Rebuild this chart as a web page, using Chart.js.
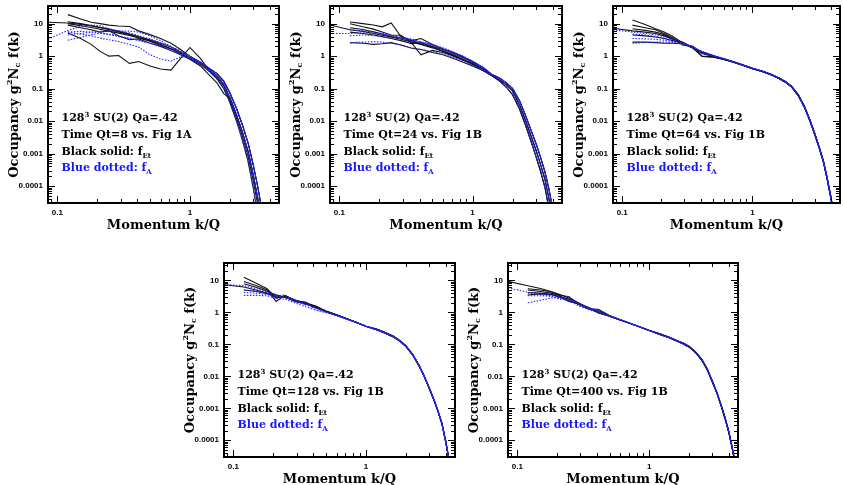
<!DOCTYPE html>
<html>
<head>
<meta charset="utf-8">
<script src="https://cdn.jsdelivr.net/npm/chart.js@4.4.1/dist/chart.umd.min.js"></script>
<style>
  body { margin: 0; width: 843px; height: 485px; overflow: hidden; background: #fff; position: relative; }
  canvas { position: absolute; }
</style>
</head>
<body>
<canvas id="p1"></canvas>
<canvas id="p2"></canvas>
<canvas id="p3"></canvas>
<canvas id="p4"></canvas>
<canvas id="p5"></canvas>
<script>
// momentum grid: noisy low-k part and the smooth tail
const kLow = [0.085, 0.12, 0.15, 0.18, 0.21, 0.245, 0.29, 0.35, 0.41, 0.5, 0.6, 0.72, 0.85, 1.0]
const kTail = [1.2, 1.4, 1.6, 1.8, 2.0, 2.25, 2.5, 2.75, 3.0, 3.25, 3.5, 3.75, 4.0, 4.25, 4.5, 4.75]

const xLabelVals = [0.1, 1]
const xLabelText = ['0.1', '1']
const yLabelVals = [0.0001, 0.001, 0.01, 0.1, 1, 10]
const yLabelText = ['0.0001', '0.001', '0.01', '0.1', '1', '10']
const timeLabels = ['Time Qt=8 vs. Fig 1A', 'Time Qt=24 vs. Fig 1B', 'Time Qt=64 vs. Fig 1B',
  'Time Qt=128 vs. Fig 1B', 'Time Qt=400 vs. Fig 1B']

// ---- Qt=8
const p1TailLo = [0.55, 0.34, 0.2, 0.1, 0.038, 0.0098, 0.0024, 5.5e-4, 9e-5, 1.3e-5]
const p1TailMid = [0.6, 0.38, 0.25, 0.135, 0.054, 0.0155, 0.0043, 0.00115, 2.3e-4, 4.2e-5, 6e-6]
const p1TailHi = [0.65, 0.42, 0.29, 0.17, 0.075, 0.024, 0.0072, 0.0021, 4.6e-4, 9.5e-5, 1.7e-5]
const p1TailDip = [0.5, 0.26, 0.15, 0.07, 0.05, 0.0155, 0.0043, 0.00115, 2.3e-4, 4.2e-5, 6e-6]
const p1TailBump = [0.85, 0.36, 0.22, 0.12, 0.045, 0.012, 0.0032, 8e-4, 1.5e-4, 2.6e-5]
const p1Black = [
  [11, 10.5, 9.5, 8.5, 7.5, 6.6, 5.6, 4.6, 3.8, 3.0, 2.3, 1.7, 1.25, 0.85],
  [null, 19, 14, 11, 10, 9, 8.5, 8.2, 6, 4.6, 3.5, 2.5, 1.6, 1.0],
  [null, 11.5, 10, 8.8, 7.8, 6.8, 5.8, 4.8, 4.0, 3.2, 2.5, 1.9, 1.35, 0.9],
  [null, 10, 8.6, 7.6, 6.7, 5.9, 5.1, 4.3, 3.6, 2.9, 2.2, 1.7, 1.2, 0.82],
  [null, 9, 7.5, 6.5, 5.5, 6, 4.2, 3.2, 3.4, 2.5, 2.0, 1.5, 1.1, 0.8],
  [null, 5.2, 3.5, 2.3, 1.4, 1.0, 1.05, 0.6, 0.68, 0.5, 0.4, 0.37, 0.85, 1.85]
]
const p1BlackTails = [p1TailMid, p1TailHi, p1TailHi, p1TailLo, p1TailDip, p1TailBump]
const p1Blue = [
  [3.3, 6.2, 8.2, 9.0, 8.6, 7.0, 6.0, 5.2, 4.3, 3.4, 2.6, 1.9, 1.35, 0.9],
  [null, 3.1, 3.8, 4.6, 5.0, 4.8, 4.2, 3.6, 3.0, 2.5, 2.0, 1.5, 1.15, 0.85],
  [null, 4.5, 5.0, 5.5, 5.8, 5.8, 6.0, 5.9, 5.5, 4.2, 3.0, 2.0, 1.45, 1.0],
  [null, 5.5, 4.8, 4.2, 3.6, 3.2, 2.8, 2.3, 1.9, 1.1, 0.82, 0.7, 0.95, 0.9],
  [null, 5.5, 5.8, 5.5, 5.2, 4.6, 4.0, 3.5, 3.1, 2.6, 2.1, 1.6, 1.2, 0.85]
]
const p1BlueTails = [p1TailHi, p1TailMid, p1TailHi, p1TailLo, p1TailMid]

// ---- Qt=24
const p2TailLo = [0.36, 0.25, 0.17, 0.11, 0.065, 0.024, 0.0075, 0.0024, 8e-4, 2.8e-4, 9e-5, 2e-5]
const p2TailMid = [0.4, 0.26, 0.185, 0.13, 0.085, 0.032, 0.0105, 0.0035, 0.00126, 4.5e-4, 1.6e-4, 4e-5, 1e-5]
const p2TailHi = [0.45, 0.27, 0.21, 0.15, 0.1, 0.043, 0.015, 0.0052, 0.002, 7.5e-4, 2.7e-4, 8e-5, 2e-5]
const p2Black = [
  [9.1, 6.5, 5.8, 5.0, 4.4, 3.9, 3.3, 2.7, 2.3, 1.8, 1.4, 1.05, 0.78, 0.58],
  [null, 11.3, 10, 9.1, 8, 10.5, 4.0, 3.0, 3.5, 2.3, 1.7, 1.3, 0.95, 0.7],
  [null, 10, 8, 6.8, 5.5, 4.5, 4.4, 2.5, 1.1, 1.5, 1.3, 1.0, 0.75, 0.55],
  [null, 7.5, 6.6, 5.6, 4.8, 4.0, 3.6, 3.0, 2.4, 1.9, 1.45, 1.1, 0.8, 0.6],
  [null, 2.6, 2.5, 2.3, 2.4, 2.6, 2.2, 1.75, 1.6, 1.3, 1.1, 0.85, 0.65, 0.5],
  [null, 5.5, 5.0, 4.5, 4.0, 3.5, 3.0, 2.4, 2.6, 2.0, 1.6, 1.2, 0.9, 0.65]
]
const p2BlackTails = [p2TailMid, p2TailHi, p2TailLo, p2TailMid, p2TailLo, p2TailHi]
const p2Blue = [
  [5.0, 5.0, 5.2, 5.0, 4.7, 4.3, 3.8, 3.2, 2.8, 2.3, 1.8, 1.35, 1.0, 0.7],
  [null, 2.6, 2.7, 2.8, 2.7, 2.5, 2.2, 1.8, 1.6, 1.4, 1.15, 0.9, 0.7, 0.52],
  [null, 4.2, 4.5, 4.3, 4.0, 3.6, 3.8, 3.4, 2.6, 2.1, 1.6, 1.2, 0.88, 0.62],
  [null, 6.5, 6.0, 5.5, 5.0, 4.4, 3.6, 3.0, 2.7, 2.2, 1.7, 1.3, 0.95, 0.68]
]
const p2BlueTails = [p2TailHi, p2TailLo, p2TailMid, p2TailHi]

// ---- Qt=64
const p3TailMid = [0.33, 0.263, 0.204, 0.155, 0.112, 0.06, 0.027, 0.0105, 0.004, 0.0015, 5.6e-4, 1.6e-4, 4.2e-5, 1e-5]
const p3TailHi = [0.34, 0.272, 0.212, 0.162, 0.117, 0.064, 0.029, 0.0113, 0.0043, 0.0016, 6e-4, 1.75e-4, 4.6e-5, 1.1e-5]
const p3Black = [
  [7.2, 6.0, 5.5, 5.0, 4.2, 3.4, 2.5, 1.8, 1.3, 1.02, 0.83, 0.66, 0.53, 0.42],
  [null, 13, 9.5, 7.0, 5.5, 4.0, 2.6, 1.9, 1.3, 1.0, 0.82, 0.66, 0.53, 0.42],
  [null, 9, 7.5, 6.5, 5.0, 3.6, 2.2, 2.0, 1.0, 0.95, 0.8, 0.65, 0.52, 0.41],
  [null, 7, 6.2, 5.5, 4.6, 3.3, 2.7, 1.8, 1.35, 1.03, 0.83, 0.66, 0.53, 0.42],
  [null, 2.7, 2.7, 2.6, 2.5, 2.5, 2.4, 1.75, 0.98, 0.93, 0.79, 0.64, 0.52, 0.41],
  [null, 4.5, 4.2, 3.9, 3.5, 3.0, 2.5, 1.9, 1.2, 0.98, 0.81, 0.65, 0.52, 0.41]
]
const p3BlackTails = [p3TailMid, p3TailHi, p3TailMid, p3TailHi, p3TailMid, p3TailHi]
const p3Blue = [
  [6.5, 5.5, 5.0, 4.5, 4.0, 3.3, 2.6, 1.9, 1.4, 1.05, 0.85, 0.67, 0.53, 0.42],
  [null, 2.5, 2.6, 2.7, 2.7, 2.6, 2.4, 1.9, 1.4, 1.05, 0.84, 0.66, 0.53, 0.42],
  [null, 4.8, 4.5, 4.0, 3.6, 3.1, 2.5, 1.9, 1.35, 1.03, 0.83, 0.66, 0.53, 0.42],
  [null, 3.5, 3.4, 3.3, 3.1, 2.8, 2.4, 1.85, 1.3, 1.02, 0.83, 0.66, 0.53, 0.42]
]
const p3BlueTails = [p3TailHi, p3TailMid, p3TailHi, p3TailMid]

// ---- Qt=128
const p4TailMid = [0.285, 0.224, 0.174, 0.126, 0.087, 0.047, 0.0224, 0.01, 0.0042, 0.00186, 7.9e-4, 3.2e-4, 8.9e-5, 2.2e-5, 5e-6]
const p4TailHi = [0.3, 0.235, 0.183, 0.132, 0.091, 0.049, 0.0235, 0.0105, 0.0044, 0.00195, 8.3e-4, 3.4e-4, 9.4e-5, 2.3e-5, 5.3e-6]
const p4Black = [
  [7.3, 6.2, 4.9, 4.0, 3.3, 3.0, 2.4, 1.9, 1.5, 1.08, 0.83, 0.63, 0.48, 0.37],
  [null, 12.5, 8, 5.5, 2.8, 3.3, 2.5, 1.9, 1.55, 1.1, 0.84, 0.63, 0.48, 0.37],
  [null, 9.3, 6.8, 5.0, 2.2, 3.4, 2.4, 2.0, 1.6, 1.1, 0.84, 0.63, 0.48, 0.37],
  [null, 7.9, 6.0, 4.6, 3.5, 3.0, 2.3, 2.1, 1.45, 1.06, 0.82, 0.62, 0.48, 0.37],
  [null, 5.0, 4.5, 3.8, 3.0, 3.1, 2.2, 1.8, 1.65, 1.07, 0.82, 0.62, 0.48, 0.37]
]
const p4BlackTails = [p4TailMid, p4TailHi, p4TailMid, p4TailHi, p4TailMid]
const p4Blue = [
  [7.5, 6.8, 5.5, 4.3, 3.6, 3.0, 2.3, 1.8, 1.45, 1.07, 0.83, 0.63, 0.48, 0.37],
  [null, 3.4, 3.4, 3.3, 2.7, 2.6, 2.0, 1.5, 1.2, 0.98, 0.79, 0.61, 0.47, 0.37],
  [null, 5.0, 4.6, 4.0, 3.4, 2.8, 2.5, 1.7, 1.4, 1.03, 0.81, 0.62, 0.48, 0.37],
  [null, 4.2, 4.0, 3.6, 3.2, 3.5, 2.2, 2.0, 1.3, 1.0, 0.8, 0.62, 0.48, 0.37]
]
const p4BlueTails = [p4TailHi, p4TailMid, p4TailHi, p4TailMid]

// ---- Qt=400
const p5TailMid = [0.205, 0.163, 0.129, 0.105, 0.083, 0.054, 0.032, 0.016, 0.0068, 0.003, 0.0012, 4.8e-4, 1.8e-4, 5.6e-5, 1.6e-5]
const p5TailHi = [0.215, 0.171, 0.135, 0.11, 0.087, 0.057, 0.034, 0.017, 0.0072, 0.0032, 0.00128, 5.1e-4, 1.9e-4, 6e-5, 1.7e-5]
const p5Black = [
  [9.3, 6.8, 5.6, 4.5, 3.6, 2.8, 2.0, 1.35, 1.05, 0.78, 0.59, 0.45, 0.35, 0.27],
  [null, 5.5, 5.0, 4.4, 3.5, 3.1, 1.9, 1.3, 1.25, 0.8, 0.6, 0.45, 0.35, 0.27],
  [null, 5.0, 4.5, 4.0, 3.3, 2.3, 1.9, 1.4, 1.0, 0.76, 0.58, 0.45, 0.35, 0.27],
  [null, 4.2, 4.0, 3.7, 3.1, 2.6, 1.8, 1.25, 1.15, 0.77, 0.58, 0.45, 0.35, 0.27],
  [null, 3.5, 3.8, 3.6, 3.0, 2.2, 1.85, 1.35, 0.95, 0.76, 0.58, 0.45, 0.35, 0.27]
]
const p5BlackTails = [p5TailMid, p5TailHi, p5TailMid, p5TailHi, p5TailMid]
const p5Blue = [
  [5.8, 4.3, 3.8, 3.5, 3.0, 2.5, 1.9, 1.4, 1.1, 0.78, 0.6, 0.46, 0.35, 0.27],
  [null, 2.0, 2.4, 2.8, 2.9, 2.3, 1.7, 1.3, 1.0, 0.76, 0.58, 0.45, 0.35, 0.27],
  [null, 3.3, 3.3, 3.2, 2.7, 3.2, 1.8, 1.3, 1.15, 0.78, 0.59, 0.45, 0.35, 0.27],
  [null, 4.0, 3.6, 3.3, 2.6, 2.4, 1.6, 1.2, 1.0, 0.75, 0.58, 0.45, 0.35, 0.27]
]
const p5BlueTails = [p5TailHi, p5TailMid, p5TailHi, p5TailMid]

// plot-area boxes on the page
const boxes = [
  { left: 48, top: 6, right: 279, bottom: 203 },
  { left: 330, top: 6, right: 562, bottom: 203 },
  { left: 613, top: 6, right: 840, bottom: 203 },
  { left: 224, top: 263, right: 455, bottom: 457 },
  { left: 508, top: 263, right: 738, bottom: 457 }
]
const panelData = [
  [p1Black, p1BlackTails, p1Blue, p1BlueTails],
  [p2Black, p2BlackTails, p2Blue, p2BlueTails],
  [p3Black, p3BlackTails, p3Blue, p3BlueTails],
  [p4Black, p4BlackTails, p4Blue, p4BlueTails],
  [p5Black, p5BlackTails, p5Blue, p5BlueTails]
]

const SERIF = "'DejaVu Serif', serif"
const BLACK = '#111118'
const BLUE = '#2424ff'

function tickMarks(e0, e1) {
    const out = []
    for (let e = e0; e <= e1; e++) {
        for (let m = 1; m <= 9; m++) out.push({ v: m * Math.pow(10, e), major: m === 1 })
    }
    return out
}
const xMarks = tickMarks(-2, 0)
const yMarks = tickMarks(-5, 1)

function toPoints(low, tail) {
    const pts = []
    kLow.forEach((k, i) => { if (low[i] != null) pts.push({ x: k, y: low[i] }) })
    kTail.forEach((k, i) => { if (tail[i] != null) pts.push({ x: k, y: tail[i] }) })
    return pts
}

function drawRuns(ctx, x, y, runs) {
    runs.forEach(r => {
        ctx.font = r.font
        ctx.fillStyle = r.color || '#000'
        ctx.fillText(r.text, x, y + (r.dy || 0))
        x += ctx.measureText(r.text).width
    })
}

const framePlugin = {
    id: 'frame',
    afterDatasetsDraw(chart, args, opts) {
        const { ctx, chartArea: a, scales: { x, y } } = chart
        ctx.save()
        ctx.strokeStyle = '#000'
        ctx.lineWidth = 1
        ctx.beginPath()
        xMarks.forEach(t => {
            const px = Math.round(x.getPixelForValue(t.v)) + 0.5
            if (px <= a.left + 1 || px >= a.right - 1) return
            const len = t.major ? 7 : 4
            ctx.moveTo(px, a.bottom); ctx.lineTo(px, a.bottom - len)
            ctx.moveTo(px, a.top); ctx.lineTo(px, a.top + len)
        })
        yMarks.forEach(t => {
            const py = Math.round(y.getPixelForValue(t.v)) + 0.5
            if (py <= a.top + 1 || py >= a.bottom - 1) return
            const len = t.major ? 7 : 4
            ctx.moveTo(a.left, py); ctx.lineTo(a.left + len, py)
            ctx.moveTo(a.right, py); ctx.lineTo(a.right - len, py)
        })
        ctx.stroke()
        ctx.lineWidth = 2
        ctx.strokeRect(a.left, a.top, a.right - a.left, a.bottom - a.top)

        // annotation block
        const big = `bold 11px ${SERIF}`
        const small = `bold 7px ${SERIF}`
        const tx = a.left + 13.5
        ctx.textBaseline = 'alphabetic'
        drawRuns(ctx, tx, a.top + 115, [{ text: '128', font: big }, { text: '3', font: small, dy: -4 }, { text: ' SU(2) Qa=.42', font: big }])
        drawRuns(ctx, tx, a.top + 132, [{ text: opts.time, font: big }])
        drawRuns(ctx, tx, a.top + 148.5, [{ text: 'Black solid: f', font: big }, { text: 'Et', font: small, dy: 3 }])
        drawRuns(ctx, tx, a.top + 164.5, [{ text: 'Blue dotted: f', font: big, color: '#1515ff' }, { text: 'A', font: small, dy: 3, color: '#1515ff' }])

        // rotated y title
        const tFont = `bold 13px ${SERIF}`
        const sFont = `bold 8px ${SERIF}`
        const runs = [
            { text: 'Occupancy g', font: tFont }, { text: '2', font: sFont, dy: -5 },
            { text: 'N', font: tFont }, { text: 'c', font: sFont, dy: 3 }, { text: ' f(k)', font: tFont }
        ]
        let w = 0
        runs.forEach(r => { ctx.font = r.font; w += ctx.measureText(r.text).width })
        ctx.translate(a.left - 33, (a.top + a.bottom) / 2)
        ctx.rotate(-Math.PI / 2)
        ctx.textBaseline = 'middle'
        drawRuns(ctx, -w / 2, 0, runs)
        ctx.restore()
    }
}

function makePanel(i) {
    const b = boxes[i]
    const canvas = document.getElementById('p' + (i + 1))
    canvas.width = b.right - b.left + 52
    canvas.height = b.bottom - b.top + 38
    canvas.style.left = (b.left - 48) + 'px'
    canvas.style.top = (b.top - 6) + 'px'

    const [black, blackTails, blue, blueTails] = panelData[i]
    const datasets = []
    blue.forEach((c, j) => datasets.push({
        data: toPoints(c, blueTails[j]), borderColor: BLUE, borderWidth: 1.1, borderDash: [1.5, 1.5]
    }))
    black.forEach((c, j) => datasets.push({
        data: toPoints(c, blackTails[j]), borderColor: BLACK, borderWidth: 1.1
    }))

    const tickFont = { family: "'Liberation Sans', Arial, sans-serif", size: 8, weight: 'bold' }
    new Chart(canvas, {
        type: 'line',
        data: { datasets },
        options: {
            responsive: false,
            animation: false,
            layout: { padding: { left: 0, top: 6, right: 4, bottom: 0 } },
            elements: { point: { radius: 0 }, line: { tension: 0 } },
            plugins: {
                legend: { display: false },
                tooltip: { enabled: false },
                frame: { time: timeLabels[i] }
            },
            scales: {
                x: {
                    type: 'logarithmic', min: 0.085, max: 4.7,
                    afterBuildTicks: s => { s.ticks = xLabelVals.map(v => ({ value: v })) },
                    afterFit: s => { s.height = 32; s.paddingLeft = 0; s.paddingRight = 0 },
                    grid: { display: false, drawTicks: false },
                    border: { display: false },
                    ticks: {
                        autoSkip: false, maxRotation: 0, padding: 5, color: '#000', font: tickFont,
                        callback: (v, idx) => xLabelText[idx]
                    },
                    title: {
                        display: true, text: 'Momentum k/Q', color: '#000',
                        font: { family: SERIF, size: 13, weight: 'bold' }, padding: { top: 0, bottom: 2 }
                    }
                },
                y: {
                    type: 'logarithmic', min: 3e-5, max: 35,
                    afterBuildTicks: s => { s.ticks = yLabelVals.map(v => ({ value: v })) },
                    afterFit: s => { s.width = 48; s.paddingTop = 0; s.paddingBottom = 0 },
                    grid: { display: false, drawTicks: false },
                    border: { display: false },
                    ticks: {
                        autoSkip: false, padding: 5, color: '#000', font: tickFont,
                        callback: (v, idx) => yLabelText[idx]
                    }
                }
            }
        },
        plugins: [framePlugin]
    })
}

window.addEventListener('load', () => {
    for (let i = 0; i < boxes.length; i++) makePanel(i)
})
</script>
</body>
</html>
